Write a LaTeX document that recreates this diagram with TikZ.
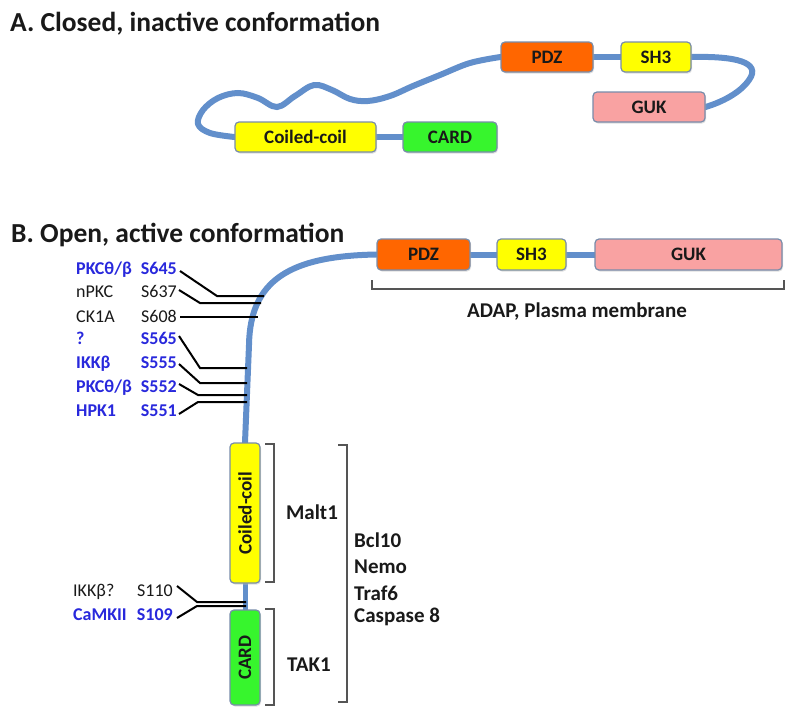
\documentclass[tikz,border=0pt]{standalone}
\usepackage{fontspec}
\setmainfont{Carlito}
\usetikzlibrary{backgrounds,shadows}
\definecolor{chain}{RGB}{98,143,203}
\definecolor{boxline}{RGB}{120,140,170}
\definecolor{pdzc}{RGB}{255,102,0}
\definecolor{yelc}{RGB}{255,255,0}
\definecolor{gukc}{RGB}{249,162,162}
\definecolor{cardc}{RGB}{55,245,45}
\definecolor{bluet}{RGB}{40,40,220}
\definecolor{brk}{RGB}{85,85,85}
\begin{document}
\begin{tikzpicture}[x=1pt,y=-1pt,
  dom/.style={draw=boxline,line width=1.2pt,rounded corners=4pt,inner sep=0pt,
    font=\fontsize{19}{21}\selectfont\bfseries,text=black!90,
    drop shadow={shadow xshift=1pt,shadow yshift=-1.5pt,fill=black!25}},
  chainline/.style={draw=chain,line width=6pt,line cap=round},
  leader/.style={draw=black,line width=2pt},
  bracketline/.style={draw=brk,line width=2pt},
  ttl/.style={font=\fontsize{27.5}{30}\selectfont\bfseries,text=black!90,inner sep=0pt},
  sitek/.style={font=\fontsize{18}{20}\selectfont,text=black!90,inner sep=0pt},
  siteb/.style={font=\fontsize{18}{20}\selectfont\bfseries,text=bluet,inner sep=0pt},
  lab/.style={font=\fontsize{21}{23}\selectfont\bfseries,text=black!90,inner sep=0pt}]
\useasboundingbox (0,0) rectangle (800,718);

% ---------- Panel A ----------
\node[ttl,anchor=base west] (titleA) at (10,31) {A. Closed, inactive conformation};
\node[dom,fill=yelc,minimum width=141pt,minimum height=30pt] (ccA) at (305.5,137) {Coiled-coil};
\node[dom,fill=cardc,minimum width=94pt,minimum height=30pt] (cardA) at (450,137) {CARD};
\node[dom,fill=pdzc,minimum width=92pt,minimum height=30pt] (pdzA) at (547,57) {PDZ};
\node[dom,fill=yelc,minimum width=70pt,minimum height=30pt] (sh3A) at (656,57) {SH3};
\node[dom,fill=gukc,minimum width=112pt,minimum height=30pt] (gukA) at (649,107) {GUK};

% ---------- Panel B ----------
\node[ttl,anchor=base west] (titleB) at (11,242) {B. Open, active conformation};
\node[dom,fill=pdzc,minimum width=93pt,minimum height=31pt] (pdzB) at (423.5,254.5) {PDZ};
\node[dom,fill=yelc,minimum width=69pt,minimum height=31pt] (sh3B) at (531.5,254.5) {SH3};
\node[dom,fill=gukc,minimum width=187pt,minimum height=31pt] (gukB) at (688.5,254.5) {GUK};
\node[dom,fill=yelc,rotate=90,minimum width=140pt,minimum height=30pt] (ccB) at (245,513) {Coiled-coil};
\node[dom,fill=cardc,rotate=90,minimum width=95pt,minimum height=30pt] (cardB) at (245,657.5) {CARD};

\begin{pgfonlayer}{background}
\draw[chainline] plot[smooth,tension=0.6] coordinates {(ccA.west) (210,133) (198,124) (203,110) (218,98) (238,93) (258,98) (277,107) (295,96) (314,85) (332,90) (350,99) (368,101) (390,96) (413,86) (440,75) (470,63) (pdzA.west)};
\draw[chainline] (ccA.east) -- (cardA.west);
\draw[chainline] (pdzA.east) -- (sh3A.west);
\draw[chainline] (sh3A.east) .. controls (735,56) and (762,62) .. (749,80) .. controls (740,93) and (722,102) .. (gukA.east);
\draw[chainline] (pdzB.west) .. controls (290,256) and (250,280) .. (249,345) -- (ccB.east);
\draw[chainline] (pdzB.east) -- (sh3B.west);
\draw[chainline] (sh3B.east) -- (gukB.west);
\draw[chainline,line width=5pt] (ccB.west) -- (cardB.east);
\end{pgfonlayer}

% bracket under PDZ-SH3-GUK
\draw[bracketline] (372,280) -- (372,289) -- (784,289) -- (784,280);
\node[lab] (adap) at (577,312) {ADAP, Plasma membrane};

% phosphosite labels
\node[siteb,anchor=base west] (k645) at (76,274) {PKCθ/β};
\node[siteb,anchor=base east] (s645) at (177,274) {S645};
\node[sitek,anchor=base west] (k637) at (76,297) {nPKC};
\node[sitek,anchor=base east] (s637) at (177,297) {S637};
\node[sitek,anchor=base west] (k608) at (76,322) {CK1A};
\node[sitek,anchor=base east] (s608) at (177,322) {S608};
\node[siteb,anchor=base west] (k565) at (76,344) {?};
\node[siteb,anchor=base east] (s565) at (177,344) {S565};
\node[siteb,anchor=base west] (k555) at (76,368) {IKKβ};
\node[siteb,anchor=base east] (s555) at (177,368) {S555};
\node[siteb,anchor=base west] (k552) at (76,392) {PKCθ/β};
\node[siteb,anchor=base east] (s552) at (177,392) {S552};
\node[siteb,anchor=base west] (k551) at (76,416) {HPK1};
\node[siteb,anchor=base east] (s551) at (177,416) {S551};
\node[sitek,anchor=base west] (k110) at (73,596) {IKKβ?};
\node[sitek,anchor=base east] (s110) at (173,596) {S110};
\node[siteb,anchor=base west] (k109) at (73,620) {CaMKII};
\node[siteb,anchor=base east] (s109) at (173,620) {S109};

% leader ends on the chain
\coordinate (e645) at (264,296);
\coordinate (e637) at (261,303);
\coordinate (e608) at (258,317);
\coordinate (e565) at (247,368);
\coordinate (e555) at (247,383);
\coordinate (e552) at (247,395);
\coordinate (e551) at (247,402);
\coordinate (e110) at (246,602);
\coordinate (e109) at (246,606);

\draw[leader] (180,271) -- (217,296) -- (e645);
\draw[leader] (179,290) -- (200,303) -- (e637);
\draw[leader] (180,317) -- (e608);
\draw[leader] (179,336) -- (200,368) -- (e565);
\draw[leader] (179,364) -- (200,383) -- (e555);
\draw[leader] (179,384) -- (198,395) -- (e552);
\draw[leader] (179,414) -- (198,402) -- (e551);
\draw[leader] (177,586) -- (197,602) -- (e110);
\draw[leader] (177,618) -- (197,606) -- (e109);

% binding brackets
\draw[bracketline] (265,444) -- (274,444) -- (274,582) -- (265,582);
\draw[bracketline] (265,609) -- (274,609) -- (274,705) -- (265,705);
\draw[bracketline] (338,445) -- (347,445) -- (347,702) -- (338,702);
\node[lab] (malt) at (312,512) {Malt1};
\node[lab] (tak) at (309,665) {TAK1};
\node[lab,anchor=west] (bcl) at (354,540) {Bcl10};
\node[lab,anchor=west] (nemo) at (354,567) {Nemo};
\node[lab,anchor=west] (traf) at (354,593) {Traf6};
\node[lab,anchor=west] (casp) at (354,617) {Caspase 8};
\end{tikzpicture}
\end{document}
